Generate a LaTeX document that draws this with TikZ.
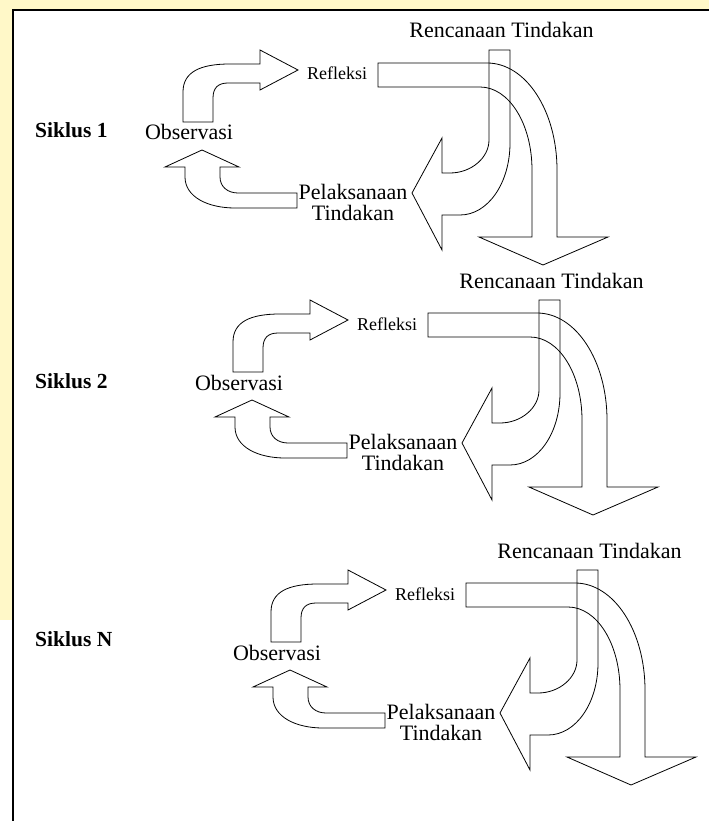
\documentclass[tikz,border=0pt]{standalone}
\usepackage{fontspec}
\setmainfont{Liberation Serif}
\usepackage{xcolor}
\definecolor{wmyellow}{RGB}{255,248,200}
\tikzset{
  blk_arrow/.style={draw=black,line width=0.8pt,line join=miter},
  frame_line/.style={draw=black,line width=1.6pt,line join=miter},
  lbl_big/.style={font=\fontsize{22}{21}\selectfont,inner sep=0pt},
  lbl_small/.style={font=\fontsize{18}{20}\selectfont,inner sep=0pt},
  lbl_cycle/.style={font=\fontsize{21.5}{24}\selectfont\bfseries,
    inner sep=0pt,anchor=base west},
}
\begin{document}
\begin{tikzpicture}[x=1pt,y=-1pt]
  \useasboundingbox (0,0) rectangle (709,821);
  \fill[wmyellow] (0,0) rectangle (709,9);
  \fill[wmyellow] (0,0) rectangle (12,620);
  \draw[frame_line] (13,821) -- (13,10) -- (709,10);
  \foreach \dx/\dy/\cyc/\sy in {0/0/1/138, 50/250/2/388, 88/520/N/646}{
    \begin{scope}[shift={(\dx,\dy)}]
      \node (ren\cyc) [lbl_big,anchor=base] at (501.5,38) {Rencanaan Tindakan};
      \node (ref\cyc) [lbl_small,anchor=base] at (337,80) {Refleksi};
      \node (obs\cyc) [lbl_big,anchor=base] at (189,140) {Observasi};
      \node (pel\cyc) [lbl_big,anchor=north,align=center] at (353,184)
        {Pelaksanaan\\Tindakan};
      \draw[blk_arrow] (183,122) -- (183,92) .. controls (183,72) and (200,64) .. (230,64)
        -- (260,64) -- (260,50) -- (298,70) -- (260,90) -- (260,83) -- (228,83)
        .. controls (218,83) and (213,88) .. (213,98) -- (213,122) -- cycle;
      \draw[blk_arrow] (297,193) -- (238,193) .. controls (228,193) and (220,187) .. (220,177)
        -- (220,167) -- (239,167) -- (202,150) -- (165,167) -- (185,167) -- (185,177)
        .. controls (185,197) and (208,208) .. (235,208) -- (297,208) -- cycle;
      \draw[blk_arrow] (489,50) -- (510,50) -- (510,143)
        .. controls (510,183) and (488,215) .. (460,215) -- (442,215) -- (442,250)
        -- (412,193) -- (442,138) -- (442,173) -- (450,173)
        .. controls (471,173) and (489,158) .. (489,140) -- cycle;
      \draw[blk_arrow] (378,63) -- (487,63) .. controls (526,63) and (557,111) .. (557,170)
        -- (557,237) -- (608,237) -- (543,265) -- (479,237) -- (532,237) -- (532,170)
        .. controls (532,124) and (509,87) .. (480,87) -- (378,87) -- cycle;
    \end{scope}
    \node (sik\cyc) [lbl_cycle] at (35,\sy) {Siklus \cyc};
  }
\end{tikzpicture}
\end{document}
